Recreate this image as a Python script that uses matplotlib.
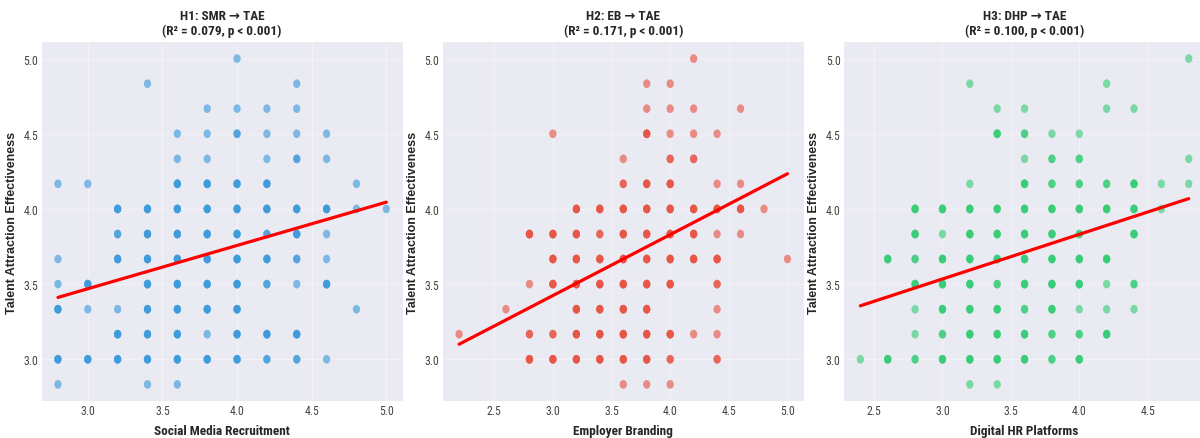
"""H1-H3 scatter plots with regression lines"""

import numpy as np
import matplotlib
matplotlib.use('Agg')
import matplotlib.pyplot as plt
from matplotlib import font_manager
from matplotlib.path import Path
from matplotlib.markers import MarkerStyle
from matplotlib.transforms import Affine2D

# y 取值 (从上到下, 每行一个水平)
y_levels = [5.0, 4.833, 4.667, 4.5, 4.333, 4.167, 4.0,
            3.833, 3.667, 3.5, 3.333, 3.167, 3.0, 2.833]

# H1: SMR -> TAE, 每行的 x 与重叠点数
smr_x = [[4.0],
         [3.4, 4.4],
         [3.8, 4.0, 4.2, 4.4],
         [3.6, 3.8, 4.0, 4.2, 4.4, 4.6],
         [3.6, 3.8, 4.2, 4.4, 4.6],
         [2.8, 3.0, 3.6, 3.8, 4.0, 4.2, 4.8],
         [3.2, 3.4, 3.6, 3.8, 4.0, 4.2, 4.4, 4.6, 4.8, 5.0],
         [3.2, 3.4, 3.6, 3.8, 4.0, 4.2, 4.4, 4.6],
         [2.8, 3.2, 3.4, 3.6, 3.8, 4.0, 4.2, 4.4, 4.6],
         [2.8, 3.0, 3.4, 3.6, 3.8, 4.0, 4.2, 4.4, 4.6],
         [2.8, 3.0, 3.2, 3.4, 3.6, 3.8, 4.0, 4.8],
         [3.2, 3.4, 3.6, 3.8, 4.0, 4.2, 4.4],
         [2.8, 3.0, 3.2, 3.4, 3.6, 3.8, 4.0, 4.2, 4.4, 4.6],
         [2.8, 3.4, 3.6]]
smr_n = [[1],
         [1, 1],
         [1, 1, 1, 1],
         [1, 1, 2, 1, 1, 1],
         [1, 1, 1, 2, 1],
         [1, 1, 3, 3, 3, 3, 1],
         [3, 3, 3, 3, 3, 3, 3, 3, 1, 1],
         [2, 3, 3, 3, 3, 2, 3, 1],
         [1, 3, 3, 3, 3, 3, 3, 2, 1],
         [1, 3, 3, 3, 3, 3, 2, 1, 3],
         [3, 1, 1, 3, 3, 3, 3, 1],
         [3, 3, 3, 1, 3, 3, 3],
         [3, 3, 3, 3, 3, 3, 3, 2, 2, 1],
         [1, 1, 1]]

# H2: EB -> TAE
eb_x = [[4.2],
        [3.8, 4.0],
        [3.8, 4.0, 4.2, 4.6],
        [3.0, 3.8, 4.0, 4.2, 4.4],
        [3.6, 4.0, 4.2],
        [3.6, 3.8, 4.0, 4.4, 4.6],
        [3.2, 3.4, 3.6, 3.8, 4.0, 4.2, 4.4, 4.6, 4.8],
        [2.8, 3.0, 3.2, 3.4, 3.6, 3.8, 4.0, 4.2, 4.4, 4.6],
        [3.0, 3.2, 3.4, 3.6, 3.8, 4.0, 4.2, 4.4, 5.0],
        [2.8, 3.0, 3.2, 3.4, 3.6, 3.8, 4.0, 4.4],
        [2.6, 3.2, 3.4, 3.6, 3.8, 4.4],
        [2.2, 2.8, 3.0, 3.2, 3.4, 3.6, 3.8, 4.0, 4.2, 4.4],
        [2.8, 3.0, 3.2, 3.4, 3.6, 3.8, 4.0, 4.4],
        [3.6, 3.8, 4.0]]
eb_n = [[1],
        [1, 1],
        [1, 1, 1, 1],
        [1, 3, 1, 1, 1],
        [1, 2, 2],
        [2, 3, 3, 1, 1],
        [3, 3, 3, 3, 3, 3, 3, 3, 1],
        [3, 3, 3, 2, 3, 3, 3, 3, 1, 1],
        [3, 3, 3, 3, 3, 3, 3, 3, 1],
        [1, 3, 3, 3, 3, 3, 3, 2],
        [1, 3, 3, 3, 3, 1],
        [1, 2, 2, 3, 3, 3, 3, 3, 1, 1],
        [3, 3, 3, 3, 3, 3, 2, 2],
        [1, 1, 1]]

# H3: DHP -> TAE
dhp_x = [[4.8],
         [3.2, 4.2],
         [3.4, 3.6, 4.2, 4.4],
         [3.4, 3.6, 3.8, 4.0],
         [3.6, 3.8, 4.0, 4.8],
         [3.2, 3.6, 3.8, 4.0, 4.2, 4.4, 4.6, 4.8],
         [2.8, 3.0, 3.2, 3.4, 3.6, 3.8, 4.0, 4.2, 4.4, 4.6],
         [2.8, 3.0, 3.2, 3.4, 3.6, 3.8, 4.0, 4.4],
         [2.6, 2.8, 3.0, 3.2, 3.4, 3.6, 3.8, 4.0, 4.2],
         [2.8, 3.0, 3.2, 3.4, 3.6, 3.8, 4.0, 4.2, 4.4],
         [2.8, 3.0, 3.2, 3.4, 3.6, 3.8, 4.0, 4.2, 4.4],
         [2.8, 3.0, 3.2, 3.4, 3.6, 3.8, 4.0, 4.2],
         [2.4, 2.6, 2.8, 3.0, 3.2, 3.4, 3.6, 3.8, 4.0],
         [3.2, 3.4]]
dhp_n = [[1],
         [1, 1],
         [1, 1, 1, 1],
         [3, 2, 1, 1],
         [1, 2, 2, 1],
         [1, 3, 2, 2, 2, 3, 1, 1],
         [3, 3, 3, 3, 3, 3, 3, 3, 3, 1],
         [3, 1, 3, 3, 3, 3, 2, 3],
         [3, 2, 3, 3, 3, 3, 3, 3, 3],
         [3, 3, 3, 2, 3, 3, 3, 1, 2],
         [1, 3, 3, 3, 2, 3, 1, 1, 1],
         [1, 2, 3, 3, 3, 2, 2, 3],
         [1, 3, 2, 3, 3, 3, 3, 2, 3],
         [1, 1]]

titles = ['H1: SMR → TAE\n(R² = 0.079, p < 0.001)',
          'H2: EB → TAE\n(R² = 0.171, p < 0.001)',
          'H3: DHP → TAE\n(R² = 0.100, p < 0.001)']
x_labels = ['Social Media Recruitment', 'Employer Branding', 'Digital HR Platforms']
y_label = 'Talent Attraction Effectiveness'
colors = ['#3498db', '#e74c3c', '#2ecc71']

# 回归线 (从图中读出的斜率与截距)
fit_slopes = [0.288, 0.405, 0.297]
fit_intercepts = [2.605, 2.209, 2.643]

all_x = [smr_x, eb_x, dhp_x]
all_n = [smr_n, eb_n, dhp_n]


def expand_points(rows_x, rows_n):
    '''
    函数功能: 将每行的点按重叠次数展开
    '''
    xs, ys = [], []
    for level, row_x, row_n in zip(y_levels, rows_x, rows_n):
        for xv, nv in zip(row_x, row_n):
            xs += [xv] * nv
            ys += [level] * nv
    return np.array(xs), np.array(ys)


def pick_narrow_font():
    '''
    函数功能: 找一个窄体字体, 找不到就用 Liberation Sans
    '''
    fonts = font_manager.fontManager.ttflist
    names = {f.name for f in fonts}
    for name in ['Liberation Sans Narrow', 'Roboto Condensed', 'Arial Narrow',
                 'DejaVu Sans Condensed', 'Noto Sans Condensed']:
        if name in names:
            return name, 'normal'
    for f in fonts:
        if 'condensed' in str(f.stretch) and 'Sans' in f.name:
            return f.name, f.stretch
    return 'Liberation Sans', 'normal'


plt.style.use('seaborn-v0_8-darkgrid')
narrow, stretch = pick_narrow_font()
plt.rcParams['font.family'] = [narrow, 'DejaVu Sans']
plt.rcParams['font.stretch'] = stretch

# 略扁的圆点
ellipse = Path.unit_circle().transformed(Affine2D().scale(0.84, 1.0))
dot = MarkerStyle(ellipse)

fig = plt.figure(figsize=(12, 4.39), dpi=100)
lefts = [0.0346, 0.3689, 0.7033]

for i in range(3):
    ax = fig.add_axes([lefts[i], 0.085, 0.301, 0.8164])
    xs, ys = expand_points(all_x[i], all_n[i])
    ax.scatter(xs, ys, s=39, marker=dot, color=colors[i], alpha=0.6,
               edgecolors='none')

    line_x = np.array([xs.min(), xs.max()])
    ax.plot(line_x, fit_intercepts[i] + fit_slopes[i] * line_x,
            color='red', linewidth=2.3)

    ax.set_title(titles[i], fontsize=9.5, fontweight='bold', pad=6)
    ax.set_xlabel(x_labels[i], fontsize=9.5, fontweight='bold', labelpad=5)
    ax.set_ylabel(y_label, fontsize=9, fontweight='bold',
                  family=['Liberation Sans', 'DejaVu Sans'], stretch='normal',
                  labelpad=4)
    ax.tick_params(labelsize=8.5, labelcolor='#444444', pad=2.5)
    ax.grid(True, alpha=0.35)

fig.savefig('out.png', dpi=100)
